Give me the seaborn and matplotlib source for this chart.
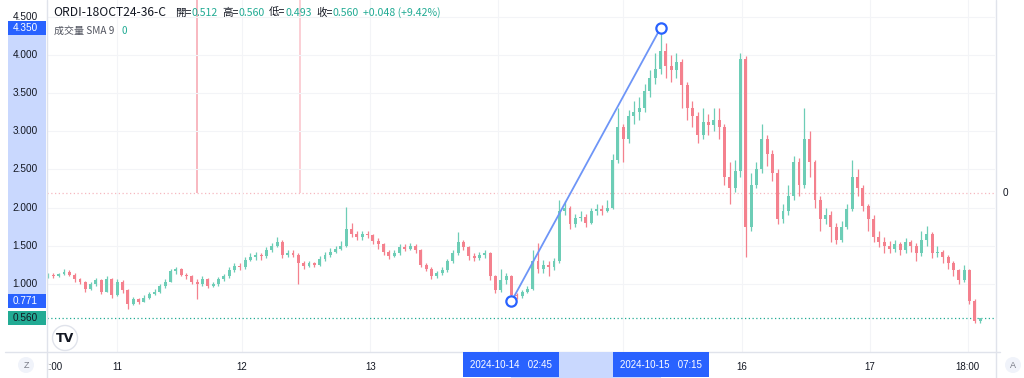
import matplotlib
matplotlib.use('Agg')
import matplotlib.pyplot as plt
import seaborn as sns
import pandas as pd
from matplotlib.patches import Rectangle, Circle

sns.set_style("white")
plt.rcParams['font.family'] = ['Liberation Sans', 'Noto Sans CJK TC', 'DejaVu Sans']
plt.rcParams['axes.unicode_minus'] = False

# hourly bars, ORDI-18OCT24-36-C
first_open = 1.10
closes = [
    1.12, 1.10, 1.13, 1.16, 1.12, 1.06, 1.02, 0.93, 1.00, 1.05,
    0.90, 1.06, 0.85, 1.03, 0.92, 0.74, 0.80, 0.77, 0.82, 0.87,
    0.90, 0.97, 1.03, 1.17, 1.19, 1.12, 1.10, 1.03, 1.00, 1.06,
    0.98, 1.00, 1.06, 1.10, 1.18, 1.24, 1.22, 1.32, 1.35, 1.38,
    1.36, 1.45, 1.50, 1.55, 1.38, 1.41, 1.38, 1.27, 1.24, 1.27,
    1.25, 1.33, 1.38, 1.42, 1.46, 1.50, 1.72, 1.66, 1.62, 1.66,
    1.64, 1.56, 1.52, 1.42, 1.37, 1.40, 1.48, 1.46, 1.50, 1.44,
    1.25, 1.20, 1.10, 1.14, 1.18, 1.30, 1.40, 1.55, 1.48, 1.36,
    1.34, 1.38, 1.40, 1.10, 0.92, 1.05, 1.10, 0.86, 0.84, 0.90,
    0.94, 1.30, 1.20, 1.25, 1.22, 1.30, 1.95, 2.00, 1.78, 1.86,
    1.88, 1.80, 1.95, 1.98, 1.96, 2.00, 2.62, 3.05, 2.90, 3.20,
    3.25, 3.30, 3.52, 3.70, 3.82, 4.05, 3.85, 3.80, 3.90, 3.60,
    3.30, 3.20, 2.95, 3.12, 3.08, 3.15, 3.05, 2.40, 2.25, 2.48,
    3.95, 1.75, 2.30, 2.50, 2.90, 2.70, 2.45, 1.85, 1.95, 2.15,
    2.60, 2.30, 2.90, 2.60, 2.10, 1.85, 1.90, 1.75, 1.58, 1.75,
    1.98, 2.40, 2.25, 2.02, 1.85, 1.62, 1.55, 1.50, 1.46, 1.52,
    1.44, 1.55, 1.50, 1.40, 1.58, 1.66, 1.40, 1.42, 1.35, 1.28,
    1.18, 1.05, 1.18, 0.78, 0.512, 0.560,
]
highs = [
    1.15, 1.14, 1.15, 1.19, 1.18, 1.14, 1.08, 1.04, 1.02, 1.08,
    1.07, 1.10, 1.08, 1.07, 1.05, 0.94, 0.83, 0.82, 0.85, 0.90,
    0.94, 1.00, 1.06, 1.20, 1.22, 1.21, 1.15, 1.12, 1.06, 1.11,
    1.08, 1.03, 1.09, 1.13, 1.22, 1.27, 1.27, 1.35, 1.40, 1.42,
    1.41, 1.49, 1.54, 1.62, 1.57, 1.45, 1.44, 1.40, 1.30, 1.30,
    1.29, 1.36, 1.42, 1.47, 1.50, 1.56, 2.01, 1.80, 1.70, 1.70,
    1.70, 1.66, 1.60, 1.54, 1.45, 1.44, 1.52, 1.52, 1.54, 1.52,
    1.46, 1.27, 1.22, 1.17, 1.22, 1.33, 1.45, 1.68, 1.58, 1.50,
    1.40, 1.42, 1.44, 1.42, 1.12, 1.19, 1.14, 1.12, 0.88, 0.92,
    0.97, 1.45, 1.54, 1.32, 1.30, 1.34, 2.10, 2.08, 2.02, 1.92,
    1.95, 1.92, 2.00, 2.05, 2.04, 2.10, 2.70, 3.30, 3.10, 3.28,
    3.40, 3.45, 3.62, 3.80, 4.02, 4.35, 4.15, 4.00, 4.02, 3.95,
    3.65, 3.40, 3.25, 3.30, 3.22, 3.30, 3.30, 3.10, 2.60, 2.62,
    4.02, 3.98, 2.45, 2.60, 3.09, 2.95, 2.75, 2.50, 2.05, 2.30,
    2.68, 2.65, 3.30, 3.00, 2.62, 2.15, 2.00, 1.95, 1.80, 1.82,
    2.05, 2.62, 2.50, 2.30, 2.05, 1.90, 1.70, 1.62, 1.56, 1.58,
    1.55, 1.60, 1.58, 1.54, 1.70, 1.76, 1.68, 1.50, 1.45, 1.38,
    1.30, 1.20, 1.25, 1.20, 0.80, 0.560,
]
lows = [
    1.08, 1.08, 1.09, 1.12, 1.10, 1.03, 1.00, 0.90, 0.92, 0.98,
    0.87, 0.89, 0.82, 0.84, 0.88, 0.67, 0.72, 0.74, 0.76, 0.80,
    0.85, 0.88, 0.95, 1.02, 1.13, 1.10, 1.06, 1.00, 0.80, 0.98,
    0.95, 0.96, 0.98, 1.04, 1.08, 1.16, 1.18, 1.20, 1.30, 1.32,
    1.32, 1.34, 1.42, 1.48, 1.34, 1.35, 1.35, 1.00, 1.20, 1.22,
    1.22, 1.23, 1.30, 1.35, 1.40, 1.44, 1.48, 1.62, 1.58, 1.58,
    1.60, 1.52, 1.46, 1.38, 1.33, 1.35, 1.38, 1.43, 1.44, 1.40,
    1.22, 1.17, 1.06, 1.08, 1.12, 1.16, 1.28, 1.38, 1.44, 1.32,
    1.30, 1.32, 1.34, 1.05, 0.88, 0.90, 1.00, 0.77, 0.80, 0.82,
    0.88, 0.92, 1.14, 1.15, 1.10, 1.18, 1.28, 1.90, 1.72, 1.74,
    1.82, 1.74, 1.78, 1.90, 1.90, 1.94, 1.98, 2.58, 2.60, 2.85,
    3.10, 3.15, 3.25, 3.45, 3.62, 3.75, 3.70, 3.65, 3.70, 3.30,
    3.15, 3.05, 2.85, 2.90, 2.95, 3.00, 2.90, 2.30, 2.05, 2.20,
    2.40, 1.35, 1.70, 2.25, 2.45, 2.55, 2.35, 1.78, 1.80, 1.90,
    2.10, 2.15, 2.25, 2.40, 2.00, 1.70, 1.78, 1.55, 1.52, 1.55,
    1.72, 1.95, 2.15, 1.95, 1.70, 1.55, 1.48, 1.40, 1.40, 1.42,
    1.38, 1.40, 1.42, 1.30, 1.36, 1.50, 1.34, 1.35, 1.28, 1.20,
    1.10, 1.00, 1.02, 0.74, 0.49, 0.493,
]
vol_idx = [28, 47.3]
vol_vals = [120, 95]

tick_idx = [0.45, 13.0, 36.4, 60.5, 130.3, 154.3, 172.7]
tick_labels = ['12:00', '11', '12', '13', '16', '17', '18:00']
grid_idx = [13.0, 36.4, 60.5, 84.5, 108.0, 130.3, 154.3, 172.7]
price_ticks = [1.0, 1.5, 2.0, 2.5, 3.0, 3.5, 4.0, 4.5]

anchor_idx = [87, 115]
anchor_price = [0.771, 4.350]
anchor_labels = ['2024-10-14   02:45', '2024-10-15   07:15']

title = 'ORDI-18OCT24-36-C'
ohlc_names = ['開=', '高=', '低=', '收=', '']
ohlc_values = ['0.512', '0.560', '0.493', '0.560', '+0.048 (+9.42%)']

GREEN = '#22ab94'
BLUE = '#2962ff'
BAND = '#c9d8fe'
TXT = '#131722'
LINE = '#e0e3eb'

df = pd.DataFrame({'close': closes, 'high': highs, 'low': lows})
df['open'] = [first_open] + closes[:-1]
df['idx'] = range(len(df))
up = df['close'] >= df['open']
cols = ['#6dcdb6' if u else '#f4818e' for u in up]

fig = plt.figure(figsize=(10.24, 3.78), dpi=100)
ax = fig.add_axes([47 / 1024, 26 / 378, 948 / 1024, 352 / 378])
ax2 = ax.twinx()
ax.set_zorder(ax2.get_zorder() + 1)
ax.patch.set_visible(False)

ax.set_xlim(-0.19, 177.8)
ax.set_ylim(0.110, 4.717)

# volume overlay
ax2.bar(vol_idx, vol_vals, width=0.32, color=['#f8b9c1', '#fbd0d6'], linewidth=0)
ax2.set_ylim(-0.824 * 60, 60)
ax2.axhline(0, color='#f4a7b0', ls=(0, (1, 2)), lw=0.9, alpha=0.8)
ax2.set_yticks([])
for s in ax2.spines.values():
    s.set_visible(False)

# grid
for v in price_ticks:
    ax.axhline(v, color='#f3f4f7', lw=0.8, zorder=0)
for t in grid_idx:
    ax.axvline(t, color='#f3f4f7', lw=0.8, zorder=0)

# candles
ax.vlines(df['idx'], df['low'], df['high'], colors=cols, lw=0.9, zorder=2)
ax.bar(df['idx'], (df['close'] - df['open']).abs().clip(lower=0.01),
       bottom=df[['open', 'close']].min(axis=1), width=0.55, color=cols,
       linewidth=0, zorder=3)

# last price line
ax.axhline(closes[-1], color=GREEN, ls=(0, (1, 2)), lw=0.9, zorder=1)

# trend line tool
sns.lineplot(x=anchor_idx, y=anchor_price, ax=ax, color='#6e95f7', lw=1.3,
             zorder=4, legend=False)
ax.scatter(anchor_idx, anchor_price, s=55, facecolor='white', edgecolor=BLUE,
           linewidth=1.6, zorder=5)

ax.set_xticks(tick_idx, tick_labels)
ax.set_yticks([])
ax.tick_params(axis='x', length=0, pad=7, labelsize=7, labelcolor=TXT)
for s in ax.spines.values():
    s.set_visible(False)

# pixel overlay for the chart chrome
ov = fig.add_axes([0, 0, 1, 1], zorder=10)
ov.set_xlim(0, 1024)
ov.set_ylim(0, 378)
ov.axis('off')
ov.patch.set_visible(False)


def ypx(v):
    return ax.transData.transform((0, v))[1]


def xpx(i):
    return ax.transData.transform((i, 0))[0]


ov.add_patch(Rectangle((0, 0), 46.5, 26, color='white', zorder=1))
ov.plot([46.5, 46.5], [0, 378], color=LINE, lw=1, zorder=2)
ov.plot([995.5, 995.5], [0, 378], color=LINE, lw=1, zorder=2)
ov.plot([5, 1000], [26, 26], color=LINE, lw=1, zorder=2)

# left price scale
y_hi, y_lo = ypx(anchor_price[1]), ypx(anchor_price[0])
ov.add_patch(Rectangle((8, y_lo), 38, y_hi - y_lo, color=BAND, lw=0, zorder=2))
for v in price_ticks:
    ov.text(38, ypx(v), f'{v:.3f}', ha='right', va='center', fontsize=7.2,
            color=TXT, zorder=3)
for v, fc, tc in [(anchor_price[1], BLUE, 'white'), (anchor_price[0], BLUE, 'white'),
                  (closes[-1], GREEN, TXT)]:
    yy = ypx(v)
    ov.add_patch(Rectangle((8, yy - 7), 38, 14, color=fc, lw=0, zorder=4))
    ov.text(38, yy, f'{v:.3f}', ha='right', va='center', fontsize=7.2,
            color=tc, zorder=5)

# time scale highlight
x0, x1 = xpx(anchor_idx[0]), xpx(anchor_idx[1])
ov.add_patch(Rectangle((x0, 0), x1 - x0, 26, color=BAND, lw=0, zorder=3))
for i, lab in zip(anchor_idx, anchor_labels):
    xx = xpx(i)
    ov.add_patch(Rectangle((xx - 48, 1.5), 96, 24.5, color=BLUE, lw=0, zorder=4))
    ov.text(xx, 13.5, lab, ha='center', va='center', fontsize=7, color='white',
            zorder=5)

# round buttons and logo
for cx, ch in [(26, 'Z'), (1013, 'A')]:
    ov.add_patch(Circle((cx, 13), 8, color='#f0f3fa', lw=0, zorder=4))
    ov.text(cx, 13, ch, ha='center', va='center', fontsize=6.5, color='#787b86',
            zorder=5)
ov.add_patch(Circle((65, 40), 12.5, facecolor='white', edgecolor=LINE, lw=1,
                    zorder=4))
ov.text(65, 40, 'TV', ha='center', va='center', fontsize=9, fontweight='heavy',
        family='DejaVu Sans', color=TXT, zorder=5)

ov.text(1003, 185, '0', ha='left', va='center', fontsize=7.2, color=TXT)

# legend header
renderer = fig.canvas.get_renderer()
cjk = ['Noto Sans CJK TC', 'DejaVu Sans']
ov.text(53, 365.5, title, ha='left', va='center', fontsize=8.7, color=TXT,
        family=cjk)
starts = [175, 222, 269, 316, 363]
for x, name, val in zip(starts, ohlc_names, ohlc_values):
    if name:
        t = ov.text(x, 365.5, name, ha='left', va='center', fontsize=7.6,
                    color=TXT, family=cjk)
        x = ov.transData.inverted().transform(
            (t.get_window_extent(renderer).x1, 0))[0]
    ov.text(x, 365.5, val, ha='left', va='center', fontsize=7.6, color=GREEN,
            family=cjk)
ov.text(54, 347, '成交量 SMA 9', ha='left', va='center', fontsize=7.2,
        color='#50535e', family=cjk)
ov.text(121, 347, '0', ha='left', va='center', fontsize=7.2, color=GREEN,
        family=cjk)

fig.savefig('out.png', dpi=100, facecolor='white')
